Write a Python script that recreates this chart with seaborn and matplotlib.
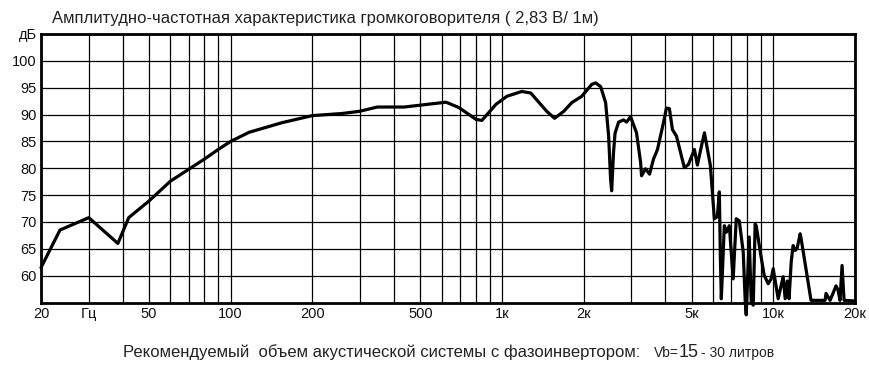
import numpy as np
import pandas as pd
import matplotlib
matplotlib.use("Agg")
import matplotlib.pyplot as plt
import seaborn as sns

# ---- data ----
freq_hz = [20, 23.5, 30, 38.4, 42.1, 50, 60, 70, 80, 90, 100, 117, 155, 200, 258, 298, 347,
           436, 552, 622, 694, 802, 843, 950, 1042, 1183, 1277, 1462, 1563, 1689, 1806, 1968,
           2140, 2214, 2310, 2410, 2472, 2513, 2536, 2577, 2610, 2690, 2806, 2878, 2978, 3132,
           3242, 3269, 3381, 3498, 3617, 3742, 3937, 4036, 4140, 4248, 4395, 4700, 4866, 5118,
           5250, 5432, 5572, 5862, 6062, 6220, 6325, 6378, 6432, 6598, 6714, 6884, 7112, 7302,
           7490, 7746, 7880, 7946, 8150, 8290, 8434, 8570, 8650, 8954, 9250, 9572, 9820, 9990,
           10420, 10870, 11060, 11250, 11430, 11640, 11830, 12030, 12240, 12560, 12660, 13770,
           15520, 15640, 16190, 17030, 17320, 17610, 17920, 18230, 19800]
spl_db = [61.5, 68.5, 70.8, 66.0, 70.8, 73.9, 77.6, 79.8, 81.7, 83.5, 85.0, 86.7, 88.5, 89.8,
          90.2, 90.6, 91.4, 91.4, 92.0, 92.3, 91.3, 89.1, 88.9, 91.9, 93.4, 94.3, 94.0, 90.6,
          89.3, 90.6, 92.2, 93.4, 95.6, 95.9, 95.2, 92.2, 86.0, 78.0, 75.8, 83.0, 86.5, 88.6,
          89.0, 88.6, 89.6, 86.6, 81.1, 78.6, 79.9, 78.9, 81.7, 83.5, 88.5, 91.2, 91.1, 87.2,
          86.0, 80.1, 80.7, 83.5, 80.6, 84.1, 86.6, 80.5, 70.6, 71.0, 75.6, 63.8, 55.7, 69.3,
          68.1, 69.3, 59.4, 70.6, 70.2, 64.4, 55.2, 52.7, 67.2, 55.2, 54.5, 69.6, 69.3, 64.4,
          60.1, 58.5, 59.4, 61.3, 55.7, 59.8, 55.7, 59.0, 55.7, 62.6, 65.6, 64.7, 65.1, 67.8,
          66.9, 55.4, 55.4, 56.7, 55.4, 58.1, 57.3, 55.4, 61.9, 55.4, 55.3]

x_major = [20, 30, 50, 100, 200, 500, 1000, 2000, 5000, 10000, 20000]
x_major_labels = ["20", "Гц", "50", "100", "200", "500", "1к", "2к", "5к", "10к", "20к"]
x_minor = [40, 60, 70, 80, 90, 300, 400, 600, 700, 800, 900,
           3000, 4000, 6000, 7000, 8000, 9000]
y_ticks = [60, 65, 70, 75, 80, 85, 90, 95, 100, 105]
y_labels = ["60", "65", "70", "75", "80", "85", "90", "95", "100", "дБ"]

title = "Амплитудно-частотная характеристика громкоговорителя ( 2,83 В/ 1м)"
note_main = "Рекомендуемый  объем акустической системы с фазоинвертором:"

assert len(freq_hz) == len(spl_db)
df = pd.DataFrame({"f": freq_hz, "db": spl_db})

sns.set_style("white")
plt.rcParams["font.family"] = ["Liberation Sans", "DejaVu Sans"]

fig = plt.figure(figsize=(8.7, 3.68), dpi=100)
ax = fig.add_axes([41 / 870, 1 - 302.5 / 368, (855 - 41) / 870, (302.5 - 34) / 368])

sns.lineplot(data=df, x="f", y="db", ax=ax, color="black", linewidth=2.3,
             estimator=None, sort=False, clip_on=False, zorder=5)

ax.set_xscale("log")
ax.set_xlim(20, 20000)
ax.set_ylim(55, 105)
ax.set_xticks(x_major)
ax.set_xticklabels(x_major_labels)
ax.set_xticks(x_minor, minor=True)
ax.set_xticklabels([], minor=True)
ax.set_yticks(y_ticks)
ax.set_yticklabels(y_labels)
ax.grid(True, which="both", axis="x", color="black", linewidth=0.9)
ax.grid(True, which="major", axis="y", color="black", linewidth=0.9)
ax.tick_params(which="both", length=0, labelsize=10.5, colors="#111111")
ax.tick_params(axis="x", pad=3)
ax.tick_params(axis="y", pad=3)
ax.set_xlabel("")
ax.set_ylabel("")
for s in ax.spines.values():
    s.set_visible(True)
    s.set_color("black")
    s.set_linewidth(2.0)

fig.text(52 / 870, 1 - 18 / 368, title, ha="left", va="center", fontsize=12, color="#222222")

fig.canvas.draw()
r = fig.canvas.get_renderer()
base_y = 1 - 357 / 368
t1 = fig.text(123 / 870, base_y, note_main, ha="left", va="baseline", fontsize=12, color="#222222")
bb = t1.get_window_extent(r)
t2 = fig.text((bb.x1 + 14) / 870, base_y, "Vb=", ha="left", va="baseline", fontsize=10, color="#222222")
bb = t2.get_window_extent(r)
t3 = fig.text((bb.x1) / 870, base_y, "15", ha="left", va="baseline", fontsize=13, color="#222222")
bb = t3.get_window_extent(r)
fig.text((bb.x1 + 2) / 870, base_y, "- 30 литров", ha="left", va="baseline", fontsize=10, color="#222222")

fig.savefig("out.png", dpi=100, facecolor="white")
